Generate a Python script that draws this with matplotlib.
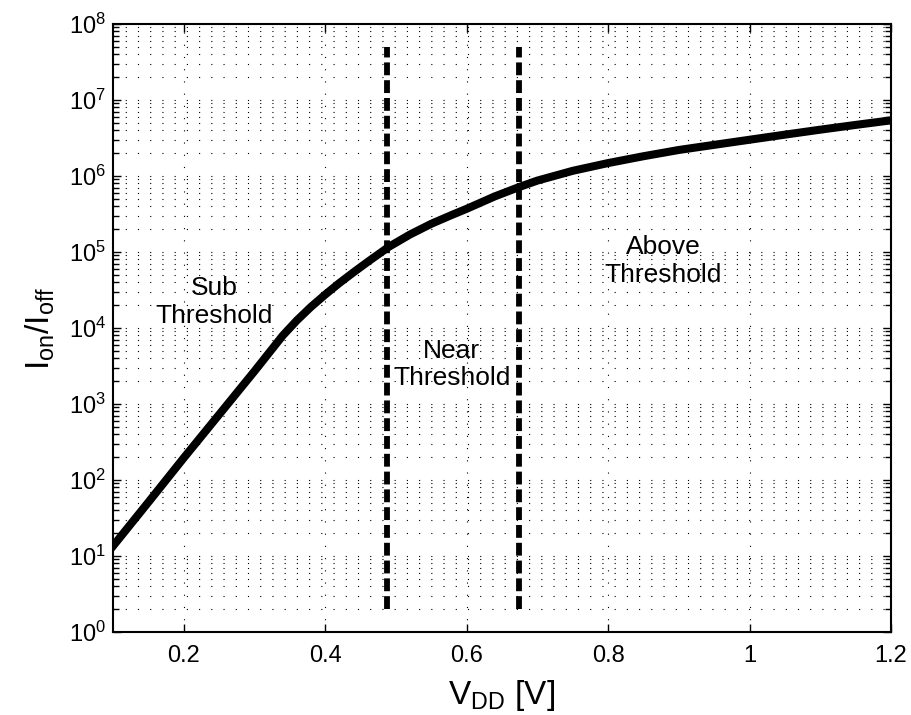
import matplotlib
matplotlib.use('Agg')
import matplotlib.pyplot as plt
import numpy as np

plt.rcParams['font.family'] = ['Liberation Sans', 'DejaVu Sans']
plt.rcParams['mathtext.fontset'] = 'custom'
plt.rcParams['mathtext.rm'] = 'Liberation Sans'
plt.rcParams['mathtext.it'] = 'Liberation Sans:italic'
plt.rcParams['mathtext.bf'] = 'Liberation Sans:bold'

# Ion/Ioff vs supply voltage
vdd = [0.10, 0.15, 0.20, 0.25, 0.30, 0.34, 0.36, 0.38, 0.40, 0.42, 0.44,
       0.46, 0.49, 0.52, 0.55, 0.58, 0.60, 0.64, 0.675, 0.70, 0.75, 0.80,
       0.85, 0.90, 0.95, 1.00, 1.05, 1.10, 1.15, 1.20]
ion_ioff = [13.5, 51, 195, 725, 2700, 7950, 1.26e4, 1.9e4, 2.75e4, 3.9e4, 5.4e4,
            7.4e4, 1.17e5, 1.7e5, 2.35e5, 3.1e5, 3.7e5, 5.4e5, 7.2e5, 8.7e5, 1.17e6, 1.48e6,
            1.82e6, 2.2e6, 2.57e6, 3.0e6, 3.5e6, 4.07e6, 4.7e6, 5.4e6]

# region boundaries
bounds = [0.4875, 0.674]
bound_lo, bound_hi = 2, 5e7

regions = ['Sub\nThreshold', 'Near\nThreshold', 'Above\nThreshold']
region_x = [0.243, 0.579, 0.878]
region_y = [2.2e4, 3.3e3, 7.6e4]

xticks = [0.2, 0.4, 0.6, 0.8, 1.0, 1.2]
xticklabels = ['0.2', '0.4', '0.6', '0.8', '1', '1.2']

fig = plt.figure(figsize=(9.11, 7.15), dpi=100)
ax = fig.add_axes([113/911, 1 - 632/715, 778/911, 608/715])

ax.semilogy(vdd, ion_ioff, color='k', linewidth=5.8, solid_joinstyle='round', zorder=3)
for b in bounds:
    ax.plot([b, b], [bound_lo, bound_hi], color='k', linewidth=4.2,
            linestyle=(0, (2.2, 0.85)), dash_capstyle='butt', zorder=3)

for txt, tx, ty in zip(regions, region_x, region_y):
    ax.text(tx, ty, txt, ha='center', va='center', fontsize=19,
            multialignment='center', zorder=4)

ax.set_xlim(0.1, 1.2)
ax.set_ylim(1, 1e8)
ax.set_xticks(xticks)
ax.set_xticklabels(xticklabels)
ax.set_yticks([10.0**k for k in range(0, 9)])

ax.tick_params(which='both', direction='in', top=True, right=True, labelsize=17,
               width=1.0)
ax.tick_params(axis='x', pad=9)
ax.tick_params(axis='y', pad=5)
ax.tick_params(which='major', length=6)
ax.tick_params(which='minor', length=4)
ax.minorticks_on()
ax.xaxis.set_minor_locator(matplotlib.ticker.NullLocator())

grid_style = dict(color='k', linewidth=0.8, linestyle=(0, (1, 10)))
ax.grid(True, which='major', axis='both', **grid_style)
ax.grid(True, which='minor', axis='y', **grid_style)

for s in ax.spines.values():
    s.set_linewidth(1.5)

ax.set_xlabel(r'$\mathrm{V_{DD}}$ [V]', fontsize=24)
ax.set_ylabel(r'$\mathrm{I_{on}/I_{off}}$', fontsize=24)
ax.xaxis.set_label_coords(0.5, -0.075)
ax.yaxis.set_label_coords(-0.072, 0.5)

fig.savefig('out.png', dpi=100)
